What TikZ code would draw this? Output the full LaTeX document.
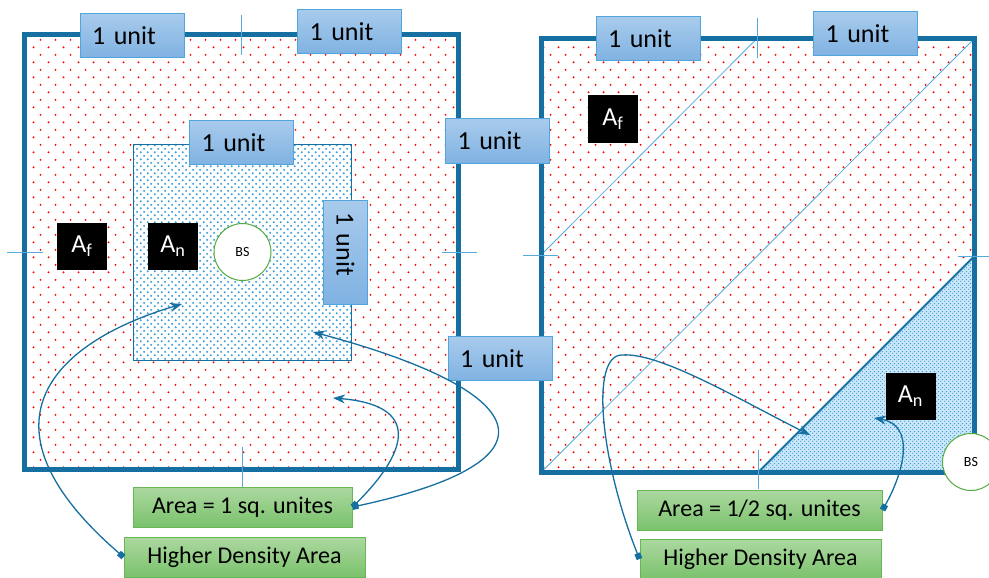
\documentclass[tikz,border=0pt]{standalone}
\usepackage{fontspec}
\setmainfont{Carlito}
\usepackage{tikz}
\usetikzlibrary{shapes,arrows.meta,patterns}

\definecolor{frameblue}{RGB}{21,111,160}
\definecolor{thinblue}{RGB}{85,170,222}
\definecolor{dotblue}{RGB}{60,160,220}
\definecolor{paleblue}{RGB}{205,232,248}
\definecolor{unittop}{RGB}{168,203,236}
\definecolor{unitbot}{RGB}{128,178,226}
\definecolor{unitedge}{RGB}{80,165,220}
\definecolor{areatop}{RGB}{172,216,160}
\definecolor{areabot}{RGB}{122,194,108}
\definecolor{areaedge}{RGB}{102,184,84}
\definecolor{bsgreen}{RGB}{84,172,64}

% dot fills for the far and near areas
\pgfdeclarepatternformonly{reddots}{\pgfqpoint{0pt}{0pt}}{\pgfqpoint{15pt}{15.4pt}}{\pgfqpoint{15pt}{15.4pt}}{
\pgfpathcircle{\pgfqpoint{3.75pt}{3.85pt}}{1.1pt}
\pgfpathcircle{\pgfqpoint{11.25pt}{11.55pt}}{1.1pt}
\pgfusepath{fill}}
\pgfdeclarepatternformonly{bluedots}{\pgfqpoint{0pt}{0pt}}{\pgfqpoint{7.4pt}{7.4pt}}{\pgfqpoint{7.4pt}{7.4pt}}{
\pgfpathcircle{\pgfqpoint{1.85pt}{1.85pt}}{1.15pt}
\pgfpathcircle{\pgfqpoint{5.55pt}{5.55pt}}{1.15pt}
\pgfusepath{fill}}
\pgfdeclarepatternformonly{finedots}{\pgfqpoint{0pt}{0pt}}{\pgfqpoint{4pt}{4pt}}{\pgfqpoint{4pt}{4pt}}{
\pgfpathcircle{\pgfqpoint{1pt}{1pt}}{0.85pt}
\pgfpathcircle{\pgfqpoint{3pt}{3pt}}{0.85pt}
\pgfusepath{fill}}

\tikzstyle{unitbox} = [rectangle, draw=unitedge, line width=1pt, top color=unittop,
bottom color=unitbot, text width=80pt, align=left, inner xsep=12pt, inner ysep=0pt,
minimum height=44pt, font=\fontsize{26}{30}\selectfont]
\tikzstyle{areabox} = [rectangle, draw=areaedge, line width=1pt, top color=areatop,
bottom color=areabot, minimum height=40pt, font=\fontsize{24}{28}\selectfont]
\tikzstyle{tagbox} = [rectangle, fill=black, text=white, minimum width=50pt,
minimum height=47pt, inner sep=0pt, font=\fontsize{26}{30}\selectfont]
\tikzstyle{bsnode} = [circle, draw=bsgreen, line width=1pt, fill=white,
minimum size=57pt, inner sep=0pt, font=\fontsize{14}{16}\selectfont]
\tikzstyle{outerframe} = [draw=frameblue, line width=5pt]
\tikzstyle{tickline} = [draw=thinblue, line width=0.8pt]
\tikzstyle{pointer} = [draw=frameblue, line width=1.3pt,
{Square[length=6pt,width=6pt]}-{Stealth[length=12pt,width=9pt]}]

\begin{document}
\begin{tikzpicture}[x=1pt, y=-1pt]
\useasboundingbox (0,0) rectangle (989,578);

% Left square: far area with the near square inside
\fill[pattern=reddots, pattern color=red] (24.5,34.5) rectangle (458.5,469.5);
\fill[white] (133,144) rectangle (351,360);
\fill[pattern=bluedots, pattern color=dotblue] (133,144) rectangle (351,360);
\draw[frameblue, line width=1pt] (133,144) rectangle (351,360);
\draw[outerframe] (24.5,34.5) rectangle (458.5,469.5);

% Right square: far area with the near triangle in the corner
\fill[pattern=reddots, pattern color=red] (541,38.5) rectangle (974.5,472.5);
\fill[paleblue] (758,472.5) -- (974.5,256) -- (974.5,472.5) -- cycle;
\fill[pattern=finedots, pattern color=dotblue] (758,472.5) -- (974.5,256) -- (974.5,472.5) -- cycle;
\draw[thinblue, line width=0.8pt] (541,255) -- (757,38.5);
\draw[thinblue, line width=0.8pt] (541,472.5) -- (974.5,38.5);
\draw[frameblue, line width=2pt] (758,472.5) -- (974.5,256);
\draw[outerframe] (541,38.5) rectangle (974.5,472.5);

% Mid-side ticks
\path[tickline] (241,15) -- (241,55);
\path[tickline] (7,252) -- (43,252);
\path[tickline] (442,252) -- (477,252);
\path[tickline] (242,447) -- (242,487);
\path[tickline] (757,18) -- (757,58);
\path[tickline] (523,255) -- (558,255);
\path[tickline] (958,256) -- (992,256);
\path[tickline] (758,450) -- (758,489);

% Place nodes
\node[unitbox] (unitA) at (132,35.5) {1 unit};
\node[unitbox] (unitB) at (349.5,31.5) {1 unit};
\node[unitbox] (unitC) at (241.5,142.5) {1 unit};
\node[unitbox, rotate=-90] (unitD) at (345.5,252) {1 unit};
\node[unitbox] (unitE) at (497.5,141) {1 unit};
\node[unitbox] (unitF) at (500,358.5) {1 unit};
\node[unitbox] (unitG) at (648,39) {1 unit};
\node[unitbox] (unitH) at (865.5,34) {1 unit};

\node[tagbox] (farL) at (82,246.5) {A\textsubscript{f}};
\node[tagbox] (nearL) at (173,246.5) {A\textsubscript{n}};
\node[tagbox] (farR) at (613,119) {A\textsubscript{f}};
\node[tagbox] (nearR) at (910.5,396) {A\textsubscript{n}};

\node[bsnode] (bsL) at (242.5,252) {BS};
\node[bsnode] (bsR) at (971,462) {BS};

\node[areabox, minimum width=219pt] (areaL) at (242.5,507) {Area = 1 sq. unites};
\node[areabox, minimum width=241pt] (denseL) at (244.5,557) {Higher Density Area};
\node[areabox, minimum width=245pt] (areaR) at (759.5,510) {Area = 1/2 sq. unites};
\node[areabox, minimum width=241pt] (denseR) at (760.5,559) {Higher Density Area};

\coordinate (inNearL) at (182,304);
\coordinate (inNearL2) at (313,332);
\coordinate (inFarL) at (333,398);
\coordinate (inNearR) at (810,435);
\coordinate (inNearR2) at (874,418);

% Draw edges
\draw[pointer] (denseL.west) .. controls (-35,420) and (60,340) .. (inNearL);
\draw[pointer] (areaL.east) .. controls (410,450) and (420,405) .. (inFarL);
\draw[pointer] (areaL.east) .. controls (570,460) and (530,390) .. (inNearL2);
\draw[pointer] (denseR.west) .. controls (600,460) and (590,355) .. (622,355)
  .. controls (660,352) and (740,400) .. (inNearR);
\draw[pointer] (areaR.east) .. controls (905,470) and (915,425) .. (inNearR2);
\end{tikzpicture}
\end{document}
